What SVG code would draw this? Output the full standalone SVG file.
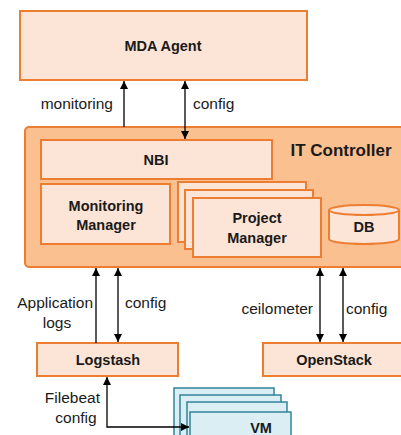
<svg xmlns="http://www.w3.org/2000/svg" width="401" height="435" viewBox="0 0 401 435">
<defs>
<style>
.box{fill:#FCE4D6;stroke:#ED7D31;stroke-width:2}
.ctl{fill:#FAC090;stroke:#ED7D31;stroke-width:2}
.vm{fill:#DAEEF3;stroke:#31849B;stroke-width:1.5}
.b{font-family:"Liberation Sans",Arial,sans-serif;font-weight:bold;font-size:14.5px;fill:#1a1a1a;text-anchor:middle}
.l{font-family:"Liberation Sans",Arial,sans-serif;font-size:15.5px;fill:#1a1a1a}
.c{stroke:#000;stroke-width:1.3;fill:none}
</style>
<marker id="ah" viewBox="0 0 10 10" refX="10" refY="5" markerWidth="8" markerHeight="8" markerUnits="userSpaceOnUse" orient="auto-start-reverse">
<path d="M0,0 L10,5 L0,10 z" fill="#000"/>
</marker>
</defs>
<g id="mda-agent">
<rect class="box" x="20" y="11" width="287" height="69"/>
<text class="b" x="163" y="51">MDA Agent</text>
</g>
<g id="it-controller">
<rect class="ctl" x="25" y="127" width="390" height="140" rx="4"/>
<text class="b" x="341" y="156" style="font-size:17px">IT Controller</text>
</g>
<g id="nbi">
<rect class="box" x="41" y="140" width="231" height="39"/>
<text class="b" x="156" y="165">NBI</text>
</g>
<g id="monitoring-manager">
<rect class="box" x="41" y="184" width="129" height="60"/>
<text class="b" x="106" y="211">Monitoring</text>
<text class="b" x="106" y="230">Manager</text>
</g>
<g id="project-manager">
<rect class="box" x="178" y="182" width="128" height="60"/>
<rect class="box" x="185" y="190" width="128" height="59"/>
<rect class="box" x="193" y="198" width="128" height="59"/>
<text class="b" x="257" y="223">Project</text>
<text class="b" x="257" y="243">Manager</text>
</g>
<g id="db">
<path class="box" d="M329,210 L329,239 A35,5 0 0 0 399,239 L399,210"/>
<ellipse class="box" cx="364" cy="210" rx="35" ry="5"/>
<text class="b" x="364" y="232">DB</text>
</g>
<g id="logstash">
<rect class="box" x="37" y="343" width="141" height="33"/>
<text class="b" x="108" y="365">Logstash</text>
</g>
<g id="openstack">
<rect class="box" x="263" y="343" width="145" height="33"/>
<text class="b" x="334" y="365">OpenStack</text>
</g>
<g id="vm">
<rect class="vm" x="174" y="388" width="100" height="50"/>
<rect class="vm" x="180" y="395" width="101" height="50"/>
<rect class="vm" x="187" y="402" width="100" height="50"/>
<rect class="vm" x="190" y="412" width="101" height="50"/>
<text class="b" x="261" y="433">VM</text>
</g>
<g id="connectors">
<line class="c" x1="124" y1="127" x2="124" y2="81" marker-end="url(#ah)"/>
<line class="c" x1="185" y1="81" x2="185" y2="139" marker-start="url(#ah)" marker-end="url(#ah)"/>
<line class="c" x1="96" y1="343" x2="96" y2="268" marker-end="url(#ah)"/>
<line class="c" x1="118" y1="268" x2="118" y2="342" marker-start="url(#ah)" marker-end="url(#ah)"/>
<line class="c" x1="320" y1="268" x2="320" y2="342" marker-start="url(#ah)" marker-end="url(#ah)"/>
<line class="c" x1="343" y1="268" x2="343" y2="342" marker-start="url(#ah)" marker-end="url(#ah)"/>
<path class="c" d="M107,377 L107,427 L189,427" marker-start="url(#ah)" marker-end="url(#ah)"/>
</g>
<g id="labels">
<text class="l" x="113" y="109" text-anchor="end">monitoring</text>
<text class="l" x="193" y="109">config</text>
<text class="l" x="93" y="308" text-anchor="end">Application</text>
<text class="l" x="57" y="328" text-anchor="middle">logs</text>
<text class="l" x="125" y="308">config</text>
<text class="l" x="313" y="314" text-anchor="end">ceilometer</text>
<text class="l" x="346" y="314">config</text>
<text class="l" x="100" y="403" text-anchor="end">Filebeat</text>
<text class="l" x="76" y="423" text-anchor="middle">config</text>
</g>
</svg>
